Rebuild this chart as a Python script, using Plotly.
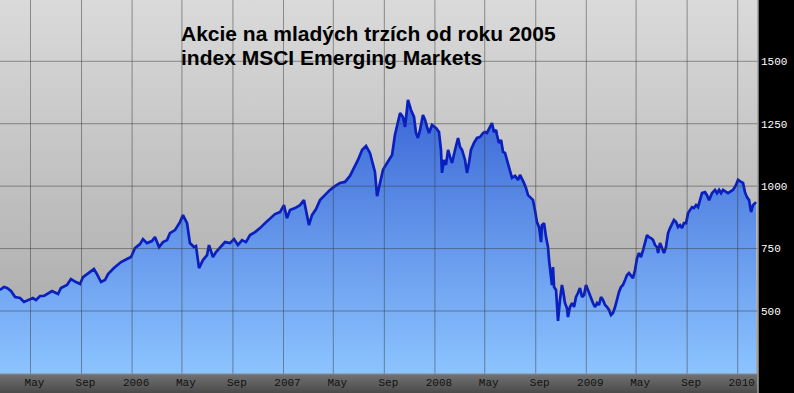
import base64
import plotly.graph_objects as go

# ---- data (decimal year, index value) ----
t = [2005.127, 2005.154, 2005.174, 2005.200, 2005.227, 2005.260, 2005.286, 2005.312, 2005.345, 2005.365,
     2005.392, 2005.418, 2005.445, 2005.471, 2005.511, 2005.530, 2005.570, 2005.596, 2005.629, 2005.656,
     2005.676, 2005.709, 2005.748, 2005.768, 2005.795, 2005.821, 2005.841, 2005.880, 2005.927, 2005.966,
     2005.993, 2006.019, 2006.052, 2006.072, 2006.098, 2006.131, 2006.151, 2006.178, 2006.204, 2006.231,
     2006.250, 2006.283, 2006.316, 2006.336, 2006.363, 2006.382, 2006.409, 2006.422, 2006.442, 2006.468,
     2006.495, 2006.508, 2006.534, 2006.554, 2006.581, 2006.614, 2006.647, 2006.673, 2006.699, 2006.726,
     2006.752, 2006.779, 2006.812, 2006.845, 2006.878, 2006.911, 2006.944, 2006.977, 2007.003, 2007.023,
     2007.043, 2007.076, 2007.109, 2007.135, 2007.155, 2007.168, 2007.188, 2007.215, 2007.241, 2007.274,
     2007.307, 2007.340, 2007.373, 2007.406, 2007.439, 2007.459, 2007.492, 2007.519, 2007.545, 2007.571,
     2007.591, 2007.604, 2007.618, 2007.637, 2007.657, 2007.684, 2007.717, 2007.736, 2007.756, 2007.770,
     2007.789, 2007.803, 2007.822, 2007.842, 2007.862, 2007.875, 2007.888, 2007.902, 2007.921, 2007.935,
     2007.948, 2007.961, 2007.981, 2008.007, 2008.027, 2008.040, 2008.047, 2008.060, 2008.073, 2008.087,
     2008.100, 2008.113, 2008.133, 2008.153, 2008.166, 2008.179, 2008.199, 2008.212, 2008.225, 2008.238,
     2008.258, 2008.278, 2008.298, 2008.318, 2008.331, 2008.344, 2008.364, 2008.377, 2008.390, 2008.404,
     2008.410, 2008.423, 2008.437, 2008.450, 2008.463, 2008.476, 2008.489, 2008.496, 2008.509, 2008.529,
     2008.549, 2008.562, 2008.575, 2008.588, 2008.602, 2008.615, 2008.635, 2008.648, 2008.661, 2008.674,
     2008.688, 2008.701, 2008.707, 2008.721, 2008.734, 2008.747, 2008.754, 2008.767, 2008.773, 2008.780,
     2008.787, 2008.800, 2008.806, 2008.813, 2008.826, 2008.839, 2008.846, 2008.859, 2008.872, 2008.879,
     2008.892, 2008.906, 2008.919, 2008.932, 2008.945, 2008.958, 2008.972, 2008.985, 2008.998, 2009.011,
     2009.024, 2009.044, 2009.057, 2009.071, 2009.084, 2009.097, 2009.110, 2009.124, 2009.137, 2009.150,
     2009.163, 2009.176, 2009.190, 2009.203, 2009.216, 2009.229, 2009.242, 2009.256, 2009.269, 2009.282,
     2009.295, 2009.308, 2009.322, 2009.335, 2009.348, 2009.361, 2009.375, 2009.388, 2009.401, 2009.414,
     2009.427, 2009.441, 2009.454, 2009.467, 2009.474, 2009.487, 2009.500, 2009.513, 2009.526, 2009.540,
     2009.553, 2009.566, 2009.579, 2009.593, 2009.606, 2009.619, 2009.632, 2009.645, 2009.659, 2009.672,
     2009.685, 2009.698, 2009.711, 2009.725, 2009.738, 2009.751, 2009.764, 2009.784, 2009.797, 2009.811,
     2009.830, 2009.850, 2009.863, 2009.877, 2009.890, 2009.903, 2009.923, 2009.936, 2009.956, 2009.969,
     2009.989, 2010.002, 2010.022, 2010.035, 2010.048, 2010.061, 2010.075, 2010.088, 2010.101, 2010.114,
     2010.121]

msci = [584, 596, 592, 580, 556, 552, 536, 544, 552, 544,
        560, 560, 572, 580, 568, 592, 604, 628, 616, 608,
        636, 652, 668, 648, 616, 624, 648, 672, 696, 708,
        716, 752, 768, 788, 772, 780, 796, 756, 776, 784,
        812, 824, 856, 884, 852, 772, 756, 760, 672, 704,
        724, 764, 716, 736, 756, 776, 772, 788, 764, 784,
        776, 804, 816, 832, 852, 872, 888, 896, 924, 872,
        904, 912, 924, 944, 884, 844, 884, 908, 944, 964,
        985, 1000, 1013, 1017, 1041, 1065, 1105, 1145, 1161, 1133,
        1093, 1057, 960, 1017, 1065, 1093, 1125, 1205, 1265, 1293,
        1277, 1237, 1345, 1305, 1277, 1213, 1193, 1225, 1285, 1265,
        1237, 1213, 1245, 1233, 1217, 1145, 1053, 1105, 1085, 1145,
        1117, 1093, 1145, 1193, 1157, 1145, 1105, 1053, 1093, 1145,
        1173, 1193, 1197, 1213, 1217, 1213, 1237, 1253, 1217, 1225,
        1205, 1173, 1185, 1137, 1133, 1105, 1073, 1053, 1033, 1041,
        1025, 1045, 1025, 1013, 992, 964, 952, 944, 904, 856,
        836, 776, 844, 852, 796, 756, 704, 624, 604, 676,
        596, 584, 516, 460, 544, 604, 584, 532, 512, 476,
        516, 532, 516, 556, 572, 592, 556, 564, 604, 584,
        556, 532, 516, 532, 524, 556, 544, 524, 516, 504,
        484, 492, 516, 552, 576, 596, 604, 624, 644, 652,
        640, 632, 664, 712, 732, 716, 744, 772, 804, 796,
        792, 784, 764, 756, 732, 772, 752, 732, 756, 812,
        832, 852, 864, 856, 836, 844, 832, 852, 852, 892,
        904, 916, 912, 924, 916, 944, 972, 976, 964, 944,
        972, 985, 972, 985, 972, 985, 976, 972, 980, 985,
        1005, 1025, 1017, 1013, 976, 956, 944, 896, 924, 932,
        936]

x_tickvals = [2005.329, 2005.666, 2006.0, 2006.329, 2006.666, 2007.0, 2007.329, 2007.666,
              2008.0, 2008.329, 2008.666, 2009.0, 2009.329, 2009.666, 2010.0]
x_ticktext = ["May", "Sep", "2006", "May", "Sep", "2007", "May", "Sep",
              "2008", "May", "Sep", "2009", "May", "Sep", "2010"]
y_tickvals = [500, 750, 1000, 1250, 1500]
y_ticktext = ["500", "750", "1000", "1250", "1500"]

title_line1 = "Akcie na mladých trzích od roku 2005"
title_line2 = "index MSCI Emerging Markets"

X_RANGE = [2005.1275, 2010.134]
Y_RANGE = [247.7, 1745.5]


def svg_gradient(top, bottom):
    svg = ('<svg xmlns="http://www.w3.org/2000/svg" width="10" height="100" viewBox="0 0 10 100" '
           'preserveAspectRatio="none"><defs><linearGradient id="g" x1="0" y1="0" x2="0" y2="1">'
           f'<stop offset="0" stop-color="{top}"/><stop offset="1" stop-color="{bottom}"/>'
           '</linearGradient></defs><rect width="10" height="100" fill="url(#g)"/></svg>')
    return "data:image/svg+xml;base64," + base64.b64encode(svg.encode()).decode()


fig = go.Figure()
fig.add_trace(go.Scatter(
    x=t, y=msci, mode="lines", fill="tozeroy",
    line=dict(color="#0a1fc0", width=2.7),
    fillgradient=dict(type="vertical", colorscale=[[0, "#8cc4ff"], [1, "#1c44c6"]],
                      start=Y_RANGE[0], stop=Y_RANGE[1]),
    hoverinfo="skip", showlegend=False,
))

W, H = 794, 393
ML, MR, MT, MB = 0, 36, 0, 19
plot_w = W - ML - MR
plot_h = H - MT - MB

shapes = []
for tv in x_tickvals:
    shapes.append(dict(type="line", xref="x", yref="paper", x0=tv, x1=tv, y0=0, y1=1,
                       line=dict(color="rgba(60,60,60,0.5)", width=1), layer="above"))
for yv in y_tickvals:
    shapes.append(dict(type="line", xref="paper", yref="y", x0=0, x1=1, y0=yv, y1=yv,
                       line=dict(color="rgba(60,60,60,0.5)", width=1), layer="above"))
shapes.append(dict(type="line", xref="paper", yref="paper", x0=1, x1=1, y0=-MB / plot_h, y1=1,
                   line=dict(color="#9c9c9c", width=1.5), layer="above"))
shapes.append(dict(type="line", xref="paper", yref="paper", x0=0, x1=1, y0=0, y1=0,
                   line=dict(color="#8a8a8a", width=1), layer="above"))

images = [
    dict(source=svg_gradient("#dadada", "#a6a6a6"), xref="paper", yref="paper",
         x=0, y=1, sizex=1, sizey=1, sizing="stretch", xanchor="left", yanchor="top", layer="below"),
    dict(source=svg_gradient("#727272", "#4a4a4a"), xref="paper", yref="paper",
         x=0, y=0, sizex=1, sizey=MB / plot_h, sizing="stretch", xanchor="left", yanchor="top",
         layer="below"),
]

title_font = dict(family="Liberation Sans, Arial, sans-serif", size=21, color="#000000")
annotations = [
    dict(text="<b>" + title_line1 + "</b>", xref="paper", yref="paper", x=179 / plot_w,
         y=1 - 33.7 / plot_h, xanchor="left", yanchor="middle", showarrow=False, font=title_font),
    dict(text="<b>" + title_line2 + "</b>", xref="paper", yref="paper", x=179 / plot_w,
         y=1 - 57.5 / plot_h, xanchor="left", yanchor="middle", showarrow=False, font=title_font),
]

fig.update_layout(
    width=W, height=H,
    margin=dict(l=ML, r=MR, t=MT, b=MB, pad=0),
    paper_bgcolor="#000000",
    plot_bgcolor="rgba(0,0,0,0)",
    shapes=shapes, images=images, annotations=annotations,
    showlegend=False,
    xaxis=dict(range=X_RANGE, tickmode="array", tickvals=x_tickvals, ticktext=x_ticktext,
               showgrid=False, zeroline=False, showline=False, ticks="",
               tickfont=dict(family="Liberation Mono, monospace", size=11, color="#111111"),
               ticklabelshift=4, fixedrange=True),
    yaxis=dict(range=Y_RANGE, side="right", tickmode="array", tickvals=y_tickvals, ticktext=y_ticktext,
               showgrid=False, zeroline=False, showline=False, ticks="",
               tickfont=dict(family="Liberation Mono, monospace", size=11, color="#ffffff"),
               ticklabelstandoff=2, fixedrange=True),
)

fig.write_html("out.html", config={"displayModeBar": False})
